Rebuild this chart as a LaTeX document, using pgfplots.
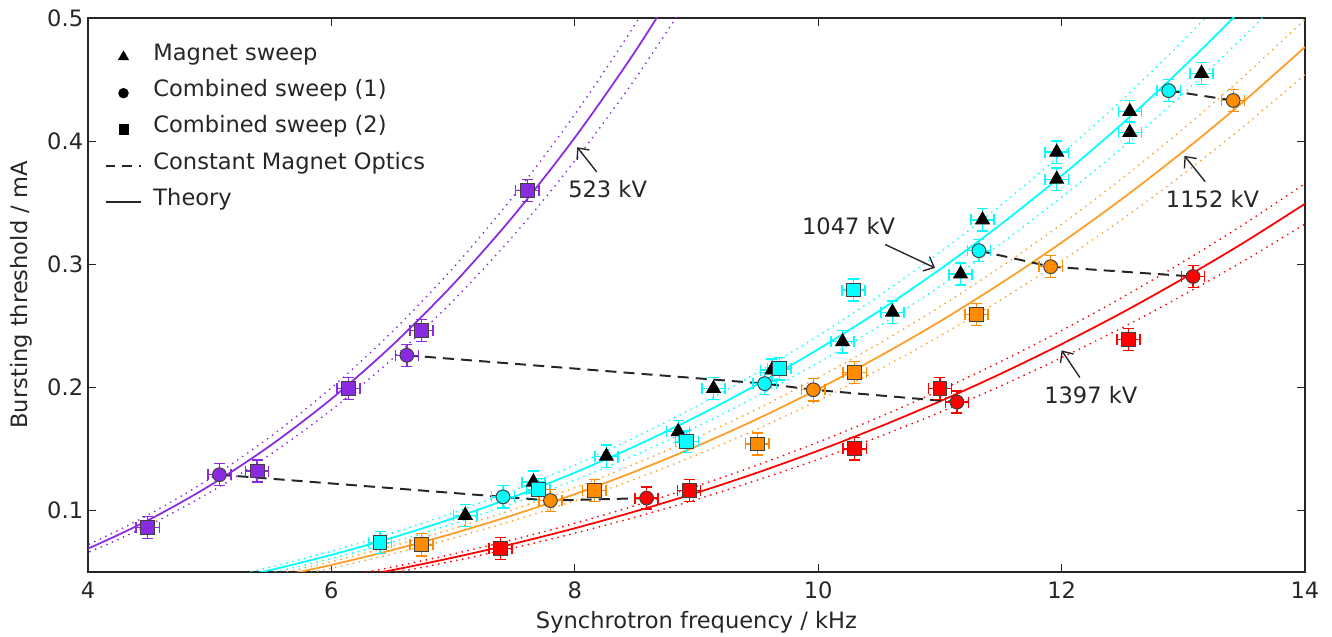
\documentclass[border=0pt]{standalone}
\usepackage{fontspec}
\setmainfont{DejaVu Sans}
\usepackage{pgfplots}
\usepackage{pgfplotstable}
\pgfplotsset{compat=1.18}
\usetikzlibrary{arrows.meta,calc}

\definecolor{cV}{HTML}{8A2BE2}
\definecolor{cC}{HTML}{00FFFF}
\definecolor{cO}{HTML}{FF8C00}
\definecolor{cR}{HTML}{FF0000}
\newcommand{\fs}{\fontsize{16.3}{19}\selectfont}

% theory curves: central value and +-band
\pgfplotstableread{
x    y      hi     lo
3.5  0.0497 0.0520 0.0474
4.0  0.0690 0.0722 0.0658
4.5  0.0923 0.0966 0.0880
5.0  0.1201 0.1257 0.1145
5.5  0.1528 0.1600 0.1456
6.0  0.1906 0.1996 0.1816
6.5  0.2341 0.2451 0.2231
7.0  0.2836 0.2969 0.2703
7.5  0.3397 0.3557 0.3237
8.0  0.4028 0.4217 0.3839
8.5  0.4734 0.4956 0.4511
9.0  0.5518 0.5777 0.5259
}\thV
\pgfplotstableread{
x    y      hi     lo
5.0  0.0409 0.0428 0.0390
5.5  0.0516 0.0540 0.0492
6.0  0.0639 0.0669 0.0609
6.5  0.0778 0.0815 0.0741
7.0  0.0936 0.0980 0.0892
7.5  0.1111 0.1163 0.1059
8.0  0.1307 0.1368 0.1246
8.5  0.1524 0.1596 0.1452
9.0  0.1762 0.1845 0.1679
9.5  0.2024 0.2119 0.1929
10.0 0.2309 0.2418 0.2200
10.5 0.2620 0.2743 0.2497
11.0 0.2958 0.3097 0.2819
11.5 0.3323 0.3479 0.3167
12.0 0.3719 0.3894 0.3544
12.5 0.4143 0.4338 0.3948
13.0 0.4601 0.4817 0.4385
13.5 0.5091 0.5330 0.4852
14.0 0.5616 0.5880 0.5352
}\thC
\pgfplotstableread{
x    y      hi     lo
5.0  0.0358 0.0375 0.0341
5.5  0.0451 0.0472 0.0430
6.0  0.0557 0.0583 0.0531
6.5  0.0678 0.0710 0.0646
7.0  0.0813 0.0851 0.0775
7.5  0.0964 0.1009 0.0919
8.0  0.1132 0.1185 0.1079
8.5  0.1318 0.1380 0.1256
9.0  0.1521 0.1592 0.1450
9.5  0.1743 0.1825 0.1661
10.0 0.1986 0.2079 0.1893
10.5 0.2250 0.2356 0.2144
11.0 0.2535 0.2654 0.2416
11.5 0.2844 0.2978 0.2710
12.0 0.3176 0.3325 0.3027
12.5 0.3533 0.3699 0.3367
13.0 0.3916 0.4100 0.3732
13.5 0.4326 0.4529 0.4123
14.0 0.4764 0.4988 0.4540
}\thO
\pgfplotstableread{
x    y      hi     lo
5.5  0.0344 0.0360 0.0328
6.0  0.0425 0.0445 0.0405
6.5  0.0515 0.0539 0.0491
7.0  0.0617 0.0646 0.0588
7.5  0.0730 0.0764 0.0696
8.0  0.0855 0.0895 0.0815
8.5  0.0993 0.1040 0.0946
9.0  0.1143 0.1197 0.1089
9.5  0.1307 0.1368 0.1246
10.0 0.1485 0.1555 0.1415
10.5 0.1678 0.1757 0.1599
11.0 0.1886 0.1975 0.1797
11.5 0.2110 0.2209 0.2011
12.0 0.2351 0.2461 0.2241
12.5 0.2608 0.2731 0.2485
13.0 0.2884 0.3020 0.2749
13.5 0.3177 0.3326 0.3028
14.0 0.3491 0.3655 0.3327
}\thR

\pgfplotsset{
  theory/.style={no markers, smooth, line width=0.45mm, forget plot},
  band/.style={no markers, smooth, line width=0.5mm, line cap=round,
    dash pattern=on 0pt off 1.55mm, forget plot},
  cmo/.style={black!85, line width=0.5mm, dash pattern=on 2.8mm off 1.8mm, forget plot},
  pts/.style={only marks, forget plot, mark size=1.75mm,
    draw=black!75, fill=#1, line width=0.25mm,
    error bars/x dir=both, error bars/y dir=both,
    error bars/x fixed=0.095, error bars/y fixed=0.009,
    error bars/error bar style={color=#1, draw=#1, line width=0.35mm},
    error bars/error mark options={color=#1, draw=#1, rotate=90, mark size=1.4mm, line width=0.35mm}},
}

\begin{document}
\begin{tikzpicture}
\begin{axis}[
  scale only axis, width=30.91cm, height=14.07cm,
  xmin=4, xmax=14, ymin=0.05, ymax=0.5,
  xtick={4,6,8,10,12,14}, ytick={0.1,0.2,0.3,0.4,0.5},
  tick align=inside, major tick length=2mm,
  tick style={black!85, line width=0.3mm},
  axis line style={black!85, line width=0.4mm},
  /pgf/number format/assume math mode=true,
  ticklabel style={font=\fs, text=black!85},
  xticklabel style={yshift=-1.2mm},
  yticklabel style={/pgf/number format/.cd, fixed, fixed zerofill, precision=1},
  xlabel={Synchrotron frequency / kHz},
  ylabel={Bursting threshold / mA},
  label style={font=\fs, text=black!85},
  xlabel style={yshift=-0.8mm},
  ylabel style={yshift=1.3mm},
  legend cell align=left,
  legend style={font=\fs, draw=none, fill=none, at={(0,1)}, anchor=north west,
    xshift=4.2mm, yshift=-7.7mm, inner sep=0pt, row sep=5mm,
    nodes={inner sep=1pt, text height=0.75em, text depth=0.25em, text=black!85},
    /tikz/every odd column/.append style={column sep=2.5mm}},
]
\addlegendimage{legend image code/.code={\draw[black, mark=triangle*, mark size=1.5mm, only marks] plot coordinates {(0.45cm,0cm)};}}
\addlegendentry{Magnet sweep}
\addlegendimage{legend image code/.code={\draw[black, mark=*, mark size=1.25mm, only marks] plot coordinates {(0.45cm,0cm)};}}
\addlegendentry{Combined sweep (1)}
\addlegendimage{legend image code/.code={\draw[black, mark=square*, mark size=1.2mm, only marks] plot coordinates {(0.45cm,0cm)};}}
\addlegendentry{Combined sweep (2)}
\addlegendimage{legend image code/.code={\draw[black!85, line width=0.5mm, dash pattern=on 2.4mm off 1.8mm] (0cm,0cm) -- (0.9cm,0cm);}}
\addlegendentry{Constant Magnet Optics}
\addlegendimage{legend image code/.code={\draw[black!85, line width=0.45mm] (0cm,0cm) -- (0.9cm,0cm);}}
\addlegendentry{Theory}

% theory bands and curves
\addplot[band, cV] table[x=x, y=hi] {\thV};
\addplot[band, cV] table[x=x, y=lo] {\thV};
\addplot[theory, cV] table[x=x, y=y] {\thV};
\addplot[band, cC] table[x=x, y=hi] {\thC};
\addplot[band, cC] table[x=x, y=lo] {\thC};
\addplot[theory, cC] table[x=x, y=y] {\thC};
\addplot[band, cO!85!white] table[x=x, y=hi] {\thO};
\addplot[band, cO!85!white] table[x=x, y=lo] {\thO};
\addplot[theory, cO!85!white] table[x=x, y=y] {\thO};
\addplot[band, cR] table[x=x, y=hi] {\thR};
\addplot[band, cR] table[x=x, y=lo] {\thR};
\addplot[theory, cR] table[x=x, y=y] {\thR};

% constant magnet optics
\addplot[cmo] coordinates {(5.08,0.129) (7.41,0.111) (7.80,0.108) (8.59,0.110)};
\addplot[cmo] coordinates {(6.62,0.226) (9.56,0.203) (9.96,0.198) (11.14,0.188)};
\addplot[cmo] coordinates {(11.32,0.311) (11.91,0.298) (13.08,0.290)};
\addplot[cmo] coordinates {(12.88,0.441) (13.41,0.433)};

% magnet sweep
\addplot[pts=cC, mark=triangle*, mark size=2mm, draw=black, fill=black] coordinates {
  (7.10,0.096) (7.66,0.123) (8.26,0.144) (8.85,0.164) (9.14,0.199)
  (9.62,0.214) (10.20,0.237) (10.61,0.261) (11.17,0.292) (11.35,0.336)
  (11.96,0.369) (11.96,0.391) (12.56,0.407) (12.56,0.424) (13.15,0.455)};

% combined sweep (2)
\addplot[pts=cV, mark=square*] coordinates {
  (4.49,0.086) (5.39,0.132) (6.14,0.199) (6.74,0.246) (7.61,0.360)};
\addplot[pts=cC, mark=square*] coordinates {
  (6.40,0.074) (7.70,0.117) (8.92,0.156) (9.68,0.215) (10.29,0.279)};
\addplot[pts=cO, mark=square*] coordinates {
  (6.74,0.072) (8.16,0.116) (9.50,0.154) (10.30,0.212) (11.30,0.259)};
\addplot[pts=cR, mark=square*] coordinates {
  (7.39,0.069) (8.94,0.116) (10.30,0.150) (11.00,0.199) (12.55,0.239)};

% combined sweep (1)
\addplot[pts=cV, mark=*] coordinates {(5.08,0.129) (6.62,0.226)};
\addplot[pts=cC, mark=*] coordinates {(7.41,0.111) (9.56,0.203) (11.32,0.311) (12.88,0.441)};
\addplot[pts=cO, mark=*] coordinates {(7.80,0.108) (9.96,0.198) (11.91,0.298) (13.41,0.433)};
\addplot[pts=cR, mark=*] coordinates {(8.59,0.110) (11.14,0.188) (13.08,0.290)};

% annotations
\begin{scope}[font=\fs, text=black!85]
\node at (axis cs:8.27,0.361) {523 kV};
\node at (axis cs:10.25,0.331) {1047 kV};
\node at (axis cs:13.24,0.353) {1152 kV};
\node at (axis cs:12.24,0.194) {1397 kV};
\end{scope}
\begin{scope}[black!85, line width=0.35mm, -{Straight Barb[length=2.2mm, width=4mm]}]
\draw (axis cs:8.18,0.375) -- (axis cs:8.02,0.395);
\draw (axis cs:10.55,0.316) -- (axis cs:10.96,0.297);
\draw (axis cs:13.18,0.367) -- (axis cs:13.01,0.388);
\draw (axis cs:12.15,0.208) -- (axis cs:12.00,0.230);
\end{scope}
\end{axis}
\pgfresetboundingbox
\path ($(current axis.south west)+(-2.235cm,-1.651cm)$) rectangle
      ($(current axis.north east)+(0.686cm,0.457cm)$);
\end{tikzpicture}
\end{document}
